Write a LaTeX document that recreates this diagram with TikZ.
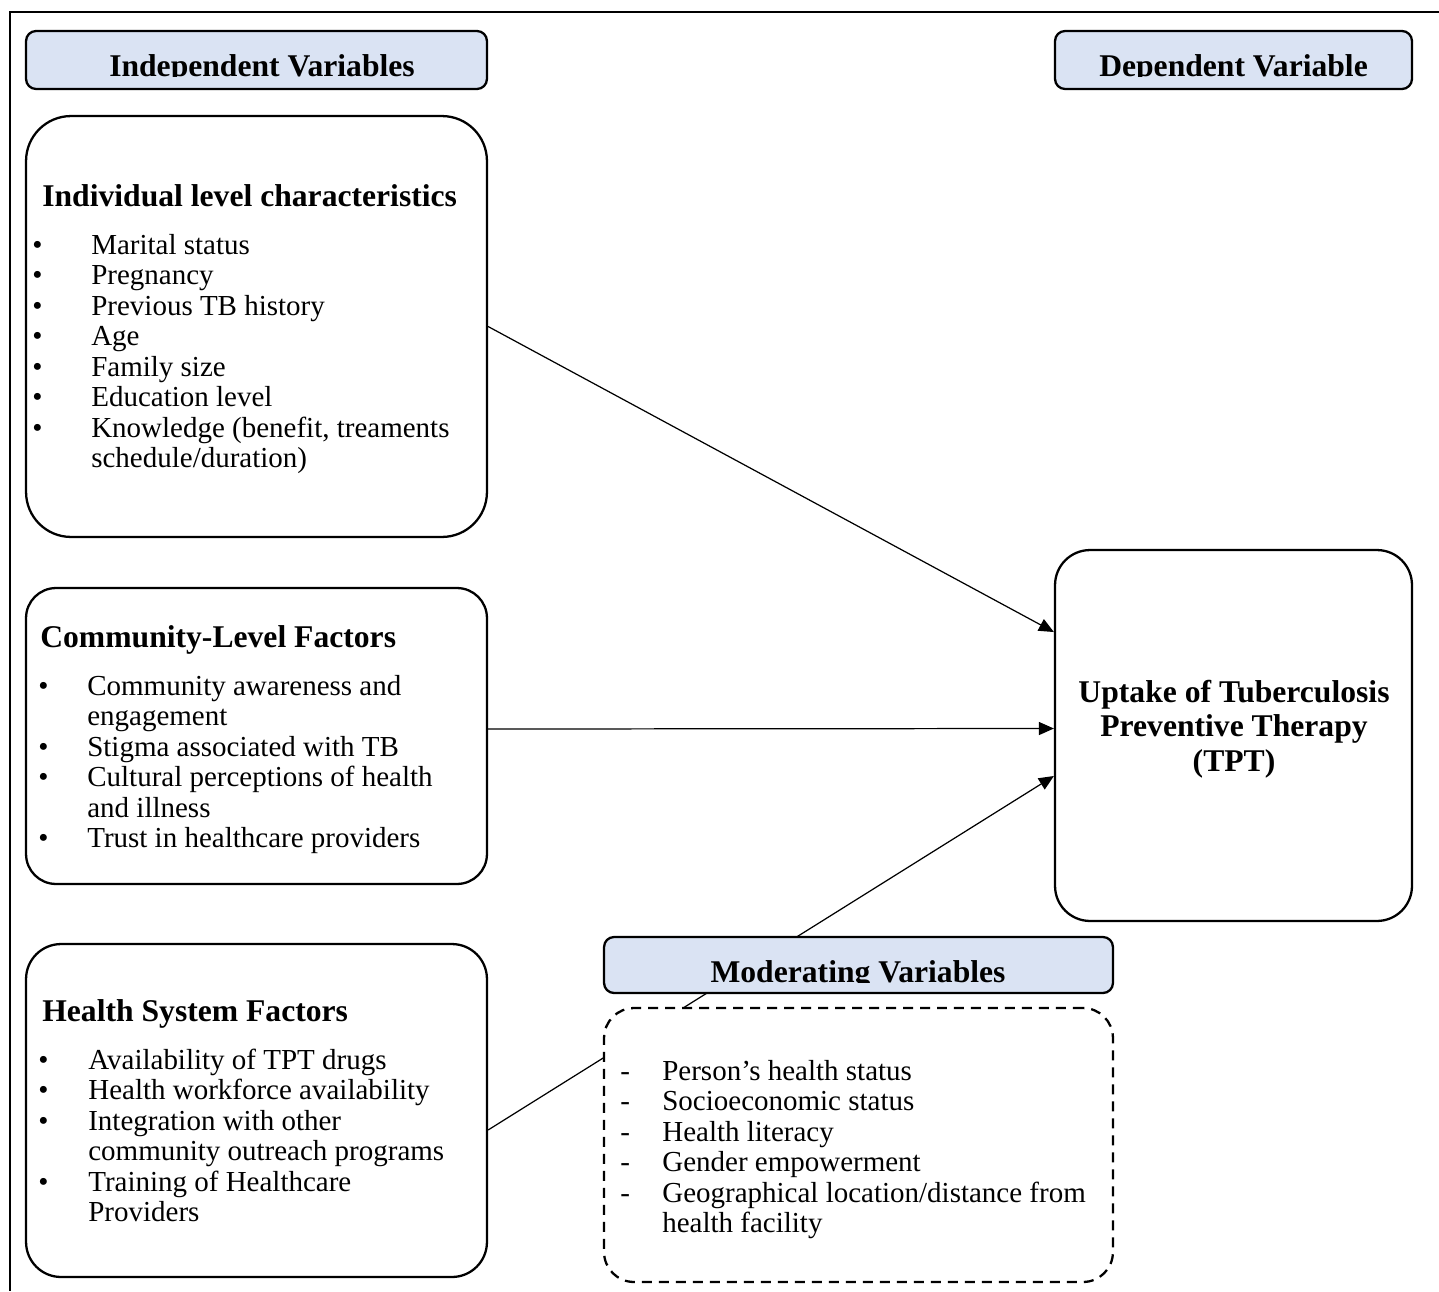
\documentclass[tikz,border=0pt]{standalone}
\usepackage{fontspec}
\setmainfont{Liberation Serif}
\usetikzlibrary{arrows.meta}
\definecolor{hdrblue}{RGB}{218,227,243}
\newcommand{\bodyfont}{\fontsize{16.5}{17.4}\selectfont}
\newcommand{\headfont}{\fontsize{18}{19.6}\selectfont\bfseries}
\begin{document}
\begin{tikzpicture}[x=0.02cm,y=-0.02cm,>={Triangle[length=0.3cm,width=0.26cm]},
  varbox/.style={draw,line width=1.3pt,fill=white,inner sep=0pt},
  headbox/.style={draw,line width=1.3pt,fill=hdrblue,rounded corners=0.2cm,inner sep=0pt},
  hdrlbl/.style={inner sep=0pt,anchor=base,font=\headfont},
  lbl/.style={inner sep=0pt,anchor=base west,align=left},
  link/.style={->,line width=0.7pt}]
  \useasboundingbox (0,0) rectangle (1439,1291);
  % outer frame (top and left only)
  \draw[line width=1.1pt] (1439,12) -- (10,12) -- (10,1291);
  % header boxes
  \node[headbox,minimum width=9.22cm,minimum height=1.16cm] (indephd) at (256.5,60) {};
  \node[headbox,minimum width=7.14cm,minimum height=1.16cm] (dephd) at (1233.5,60) {};
  \begin{scope}
    \clip (26,31) rectangle (1412,77);
    \node[hdrlbl] (indeplbl) at (262,77) {Independent Variables};
    \node[hdrlbl] (deplbl) at (1233.5,77) {Dependent Variable};
  \end{scope}
  % individual level box
  \node[varbox,rounded corners=0.9cm,minimum width=9.22cm,minimum height=8.42cm] (indiv) at (256.5,326.5) {};
  \node[lbl,font=\headfont] (indivhd) at (42,206) {Individual level characteristics};
  \node[lbl,font=\bodyfont] (indivlist) at (32,254) {\begin{tabular}[t]{@{}p{1.18cm}@{}l@{}}
    \textbullet & Marital status\\
    \textbullet & Pregnancy\\
    \textbullet & Previous TB history\\
    \textbullet & Age\\
    \textbullet & Family size\\
    \textbullet & Education level\\
    \textbullet & Knowledge (benefit, treaments\\
                & schedule/duration)
  \end{tabular}};
  % community level box
  \node[varbox,rounded corners=0.6cm,minimum width=9.22cm,minimum height=5.92cm] (comm) at (256.5,736) {};
  \node[lbl,font=\headfont] (commhd) at (40,647) {Community-Level Factors};
  \node[lbl,font=\bodyfont] (commlist) at (38,695) {\begin{tabular}[t]{@{}p{0.98cm}@{}l@{}}
    \textbullet & Community awareness and\\
                & engagement\\
    \textbullet & Stigma associated with TB\\
    \textbullet & Cultural perceptions of health\\
                & and illness\\
    \textbullet & Trust in healthcare providers
  \end{tabular}};
  % health system box
  \node[varbox,rounded corners=0.7cm,minimum width=9.22cm,minimum height=6.66cm] (health) at (256.5,1110.5) {};
  \node[lbl,font=\headfont] (healthhd) at (42,1021) {Health System Factors};
  \node[lbl,font=\bodyfont] (healthlist) at (38,1069) {\begin{tabular}[t]{@{}p{1.0cm}@{}l@{}}
    \textbullet & Availability of TPT drugs\\
    \textbullet & Health workforce availability\\
    \textbullet & Integration with other\\
                & community outreach programs\\
    \textbullet & Training of Healthcare\\
                & Providers
  \end{tabular}};
  % dependent variable box
  \node[varbox,rounded corners=0.7cm,minimum width=7.14cm,minimum height=7.42cm] (uptake) at (1233.5,735.5) {};
  \node[inner sep=0pt,align=center,font=\headfont] (uptakelbl) at (1234,729) {Uptake of Tuberculosis\\Preventive Therapy\\(TPT)};
  % arrows to uptake
  \draw[link] (indiv.east) -- ([yshift=2.07cm]uptake.west);
  \draw[link] ([yshift=0.14cm]comm.east) -- ([yshift=0.14cm]uptake.west);
  \draw[link] ([yshift=-0.39cm]health.east) -- ([yshift=-0.81cm]uptake.west);
  % moderating variables
  \node[headbox,minimum width=10.18cm,minimum height=1.12cm] (modhd) at (858.5,965) {};
  \begin{scope}
    \clip (604,937) rectangle (1113,982);
    \node[hdrlbl] (modlbl) at (858,982) {Moderating Variables};
  \end{scope}
  \node[varbox,dashed,dash pattern=on 0.2cm off 0.14cm,rounded corners=0.6cm,minimum width=10.18cm,minimum height=5.48cm] (modbox) at (858.5,1145) {};
  \node[lbl,font=\bodyfont] (modlist) at (620,1080) {\begin{tabular}[t]{@{}p{0.84cm}@{}l@{}}
    - & Person’s health status\\
    - & Socioeconomic status\\
    - & Health literacy\\
    - & Gender empowerment\\
    - & Geographical location/distance from\\
      & health facility
  \end{tabular}};
\end{tikzpicture}
\end{document}
